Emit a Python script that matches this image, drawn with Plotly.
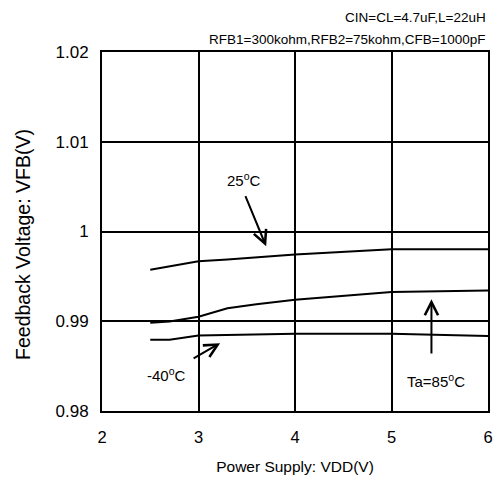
import plotly.graph_objects as go

vdd = [2.5, 2.7, 3.0, 3.3, 3.6, 4.0, 5.0, 6.0]
vfb_25 = [0.99574, 0.99612, 0.99669, 0.99688, 0.99710, 0.99745, 0.99802, 0.99802]
vfb_85 = [0.98982, 0.98998, 0.99050, 0.99145, 0.99190, 0.99239, 0.99327, 0.99342]
vfb_m40 = [0.98795, 0.98795, 0.98840, 0.98845, 0.98850, 0.98860, 0.98860, 0.98837]

x_ticks = [2, 3, 4, 5, 6]
y_ticks = [0.98, 0.99, 1.00, 1.01, 1.02]
y_tick_text = ["0.98", "0.99", "1", "1.01", "1.02"]

FONT = "Liberation Sans, Arial, sans-serif"

fig = go.Figure()
for ys in (vfb_25, vfb_85, vfb_m40):
    fig.add_trace(go.Scatter(x=vdd, y=ys, mode="lines",
                             line=dict(color="black", width=2), showlegend=False))

arrow_common = dict(xref="x", yref="y", axref="x", ayref="y", showarrow=True,
                    arrowhead=5, arrowsize=1.3, arrowwidth=2, arrowcolor="black", text="")
annotations = [
    dict(x=3.701, y=0.99835, ax=3.480, ay=1.0041, **arrow_common),
    dict(x=3.224, y=0.98756, ax=2.934, ay=0.98578, **arrow_common),
    dict(x=5.414, y=0.99246, ax=5.414, ay=0.98623, **arrow_common),
    dict(x=3.470, y=1.00575, text="25<sup>o</sup>C", showarrow=False, xref="x", yref="y",
         font=dict(size=15)),
    dict(x=2.665, y=0.98410, text="-40<sup>o</sup>C", showarrow=False, xref="x", yref="y",
         font=dict(size=15)),
    dict(x=5.458, y=0.98340, text="Ta=85<sup>o</sup>C", showarrow=False, xref="x", yref="y",
         font=dict(size=15)),
    dict(x=1.0, y=1.0, xref="paper", yref="paper", xanchor="right", yanchor="middle",
         yshift=35, text="CIN=CL=4.7uF,L=22uH", showarrow=False, font=dict(size=13.5)),
    dict(x=1.0, y=1.0, xref="paper", yref="paper", xanchor="right", yanchor="middle",
         yshift=13, text="RFB1=300kohm,RFB2=75kohm,CFB=1000pF", showarrow=False,
         font=dict(size=13.5)),
    # y-axis title
    dict(x=-0.205, y=0.465, xref="paper", yref="paper", xanchor="center", yanchor="middle",
         text="Feedback Voltage: VFB(V)", textangle=-90, showarrow=False,
         font=dict(size=19.5)),
]

# The page adds an 8px body margin; shift the layout accordingly.
fig.update_layout(
    width=494, height=474,
    margin=dict(l=94, r=9, t=44, b=69),
    paper_bgcolor="white", plot_bgcolor="white",
    font=dict(family=FONT, size=15, color="black"),
    annotations=annotations,
    xaxis=dict(range=[2, 6], tickvals=x_ticks, showgrid=True, gridcolor="black",
               gridwidth=2, zeroline=False, showline=True, linecolor="black",
               linewidth=2, mirror=True, ticks="", ticklen=0, ticklabelstandoff=10,
               title=dict(text="Power Supply: VDD(V)", font=dict(size=15.5), standoff=16),
               tickfont=dict(size=16.5)),
    yaxis=dict(range=[0.98, 1.02], tickvals=y_ticks, ticktext=y_tick_text,
               showgrid=True, gridcolor="black", gridwidth=2, zeroline=False,
               showline=True, linecolor="black", linewidth=2, mirror=True,
               ticks="", ticklen=0, ticklabelstandoff=8,
               tickfont=dict(size=17)),
)

fig.write_html("out.html")
